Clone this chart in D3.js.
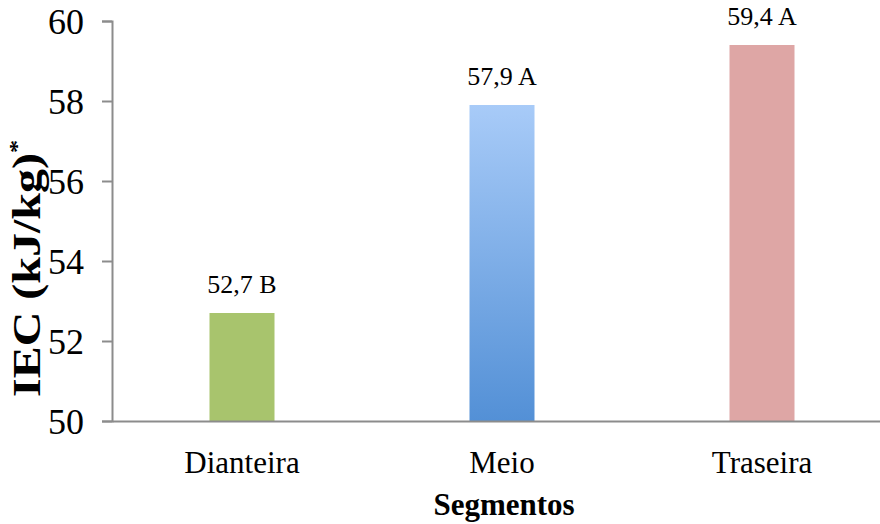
<!DOCTYPE html>
<html>
<head>
<meta charset="utf-8">
<script src="https://cdn.jsdelivr.net/npm/d3@7"></script>
<style>
  html, body { margin: 0; padding: 0; background: #fff; }
  svg { display: block; }
  text { font-family: "Liberation Serif", "Times New Roman", serif; fill: #000; }
</style>
</head>
<body>
<svg id="chart" width="880" height="524"></svg>
<script>
// Energy content per carcass segment
const categories = ["Dianteira", "Meio", "Traseira"];
const values = [52.7, 57.9, 59.4];
const letters = ["B", "A", "A"];
const yTicks = [50, 52, 54, 56, 58, 60];

const svg = d3.select("#chart");
const margin = { left: 112, right: -12, top: 21, bottom: 103 };
const W = 880, H = 524;
const axisGrey = "#8c8c8c";

const x = d3.scaleBand()
  .domain(categories)
  .range([margin.left, W - margin.right])
  .paddingInner(0.75)
  .paddingOuter(0.375);

const y = d3.scaleLinear()
  .domain([50, 60])
  .range([H - margin.bottom, margin.top]);

// fills
const defs = svg.append("defs");
const blue = defs.append("linearGradient")
  .attr("id", "gBlue").attr("x1", 0).attr("y1", 0).attr("x2", 0).attr("y2", 1);
blue.append("stop").attr("offset", "0%").attr("stop-color", "#a8cbf8");
blue.append("stop").attr("offset", "100%").attr("stop-color", "#5390d6");
const fills = ["#a8c46d", "url(#gBlue)", "#dea6a5"];

// bars
svg.append("g").selectAll("rect")
  .data(values)
  .join("rect")
  .attr("x", (d, i) => x(categories[i]))
  .attr("width", x.bandwidth())
  .attr("y", d => y(d))
  .attr("height", d => y(50) - y(d))
  .attr("fill", (d, i) => fills[i]);

// y axis
const yAxis = svg.append("g")
  .attr("transform", `translate(${margin.left},0)`)
  .call(d3.axisLeft(y).tickValues(yTicks).tickSize(10).tickPadding(18).tickFormat(d3.format("d")));
yAxis.attr("font-family", null);
yAxis.select(".domain").attr("stroke", axisGrey).attr("stroke-width", 2);
yAxis.selectAll(".tick line").attr("stroke", axisGrey).attr("stroke-width", 2);
yAxis.selectAll(".tick text")
  .attr("font-size", 36).attr("dy", "0.34em");

// x axis
const xAxis = svg.append("g")
  .attr("transform", `translate(0,${y(50)})`)
  .call(d3.axisBottom(x).tickSize(0).tickPadding(30));
xAxis.attr("font-family", null);
xAxis.select(".domain").attr("stroke", axisGrey).attr("stroke-width", 2);
xAxis.selectAll(".tick text")
  .attr("font-size", 31);

// value labels
svg.append("g").selectAll("text")
  .data(values)
  .join("text")
  .attr("x", (d, i) => x(categories[i]) + x.bandwidth() / 2)
  .attr("y", d => y(d) - 20)
  .attr("text-anchor", "middle")
  .attr("font-size", 26)
  .text((d, i) => d3.format(".1f")(d).replace(".", ",") + " " + letters[i]);

// axis titles
svg.append("text")
  .attr("x", 504).attr("y", 515)
  .attr("text-anchor", "middle")
  .attr("font-size", 31).attr("font-weight", "bold")
  .text("Segmentos");

// y title, slightly stretched along its length
const yt = svg.append("text")
  .attr("transform", "translate(40,397) rotate(-90) scale(1.2,1)")
  .attr("text-anchor", "start")
  .attr("font-size", 40).attr("font-weight", "bold");
yt.append("tspan").text("IEC (kJ/kg)");
yt.append("tspan").attr("dy", -16).attr("font-size", 22).text("*");
</script>
</body>
</html>
